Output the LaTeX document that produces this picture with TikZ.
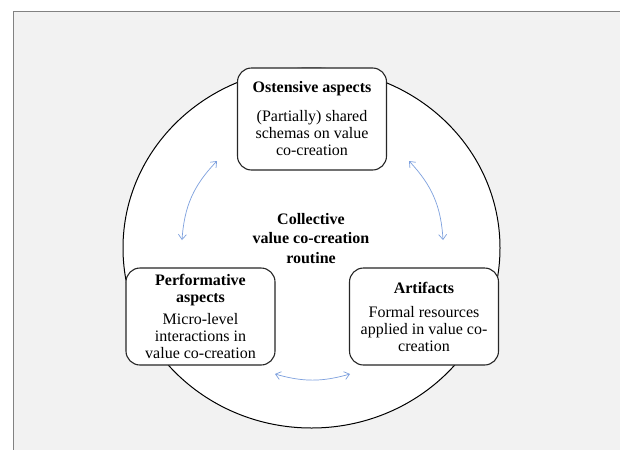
\documentclass[tikz,border=0pt]{standalone}
\usepackage{fontspec}
\setmainfont{Liberation Serif}
\usepackage{tikz}
\usetikzlibrary{positioning}
\usetikzlibrary{arrows.meta}

\definecolor{bggray}{RGB}{242,242,242}
\definecolor{framegray}{RGB}{130,130,130}
\definecolor{linkblue}{RGB}{125,160,222}

\tikzset{
	aspectbox/.style={draw=black!85, line width=1.1pt, fill=white, rounded corners=14pt,
		minimum width=149pt, inner sep=0pt, align=center,
		font=\fontsize{16}{17}\selectfont},
	linkarrow/.style={draw=linkblue, line width=0.7pt,
		{Straight Barb[length=5pt,width=8pt]}-{Straight Barb[length=5pt,width=8pt]}},
}

\begin{document}
\begin{tikzpicture}[x=1pt,y=-1pt]
	
	% page: 620 x 450, origin top left
	\useasboundingbox (0,0) rectangle (620,450);
	\fill[white] (0,0) rectangle (620,450);
	\fill[bggray] (13,11) rectangle (620,450);
	\draw[framegray, line width=1pt] (620,11) -- (13,11) -- (13,450);
	
	% the routine as one big round
	\draw[black, line width=1pt, fill=white] (311.5,248) ellipse [x radius=188.5, y radius=180];
	
	% free ends of the blue links
	\coordinate (L1) at (182,240);
	\coordinate (L2) at (217,161);
	\coordinate (R1) at (409,161);
	\coordinate (R2) at (443,240);
	\coordinate (B1) at (275,374);
	\coordinate (B2) at (350,374);
	
	\draw[linkarrow] (L1) to[bend left=20] (L2);
	\draw[linkarrow] (R1) to[bend left=20] (R2);
	\draw[linkarrow] (B1) to[bend right=16] (B2);
	
	%%%%%%%%%%%%%%%%%%%%%%%%%%%%%%%%%%%%%%%%%%%%%%%%%%%%%%%%%%%%%%
	% the three aspects
	\node[aspectbox, minimum height=102pt] (Ostensive) at (312,119)
		{\textbf{Ostensive aspects}\\[12pt] (Partially) shared\\ schemas on value\\ co-creation};
	
	\node[aspectbox, minimum height=97pt] (Performative) at (200.5,316.5)
		{\textbf{Performative}\\ \textbf{aspects}\\[5pt] Micro-level\\ interactions in\\ value co-creation};
	
	\node[aspectbox, minimum height=97pt] (Artifacts) at (424,316.5)
		{\textbf{Artifacts}\\[7pt] Formal resources\\ applied in value co-\\ creation};
	
	% centre label
	\node[align=center, font=\bfseries\fontsize{16}{19.5}\selectfont] (Routine) at (311,238.5)
		{Collective\\ value co-creation\\ routine};
	
\end{tikzpicture}
\end{document}
